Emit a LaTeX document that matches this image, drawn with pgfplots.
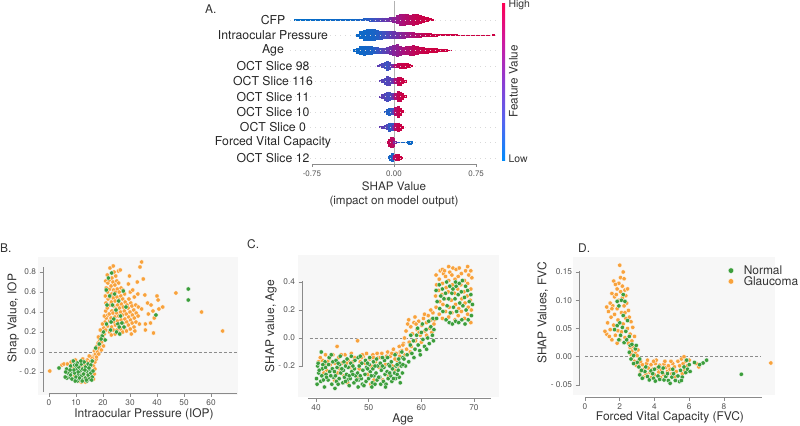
\documentclass[border=0pt]{standalone}
\usepackage{fontspec}
\setmainfont{TeX Gyre Heros}
\usepackage{pgfplots}
\pgfplotsset{compat=1.18}
\definecolor{gl}{HTML}{F8A23C}
\definecolor{nm}{HTML}{3C9E3C}
\definecolor{tk}{HTML}{555555}
\definecolor{lb}{HTML}{333333}
\definecolor{sp}{HTML}{8A8A8A}
\pgfplotsset{
  set layers,
  scat/.style={
    scale only axis, clip=false, anchor=south west,
    axis line style={draw=none},
    tick pos=left, tick align=outside,
    major tick length=3.5bp,
    tick style={sp, line width=0.6bp},
    ticklabel style={font=\fontsize{8.3}{9}\selectfont, text=tk},
    label style={font=\fontsize{12}{14}\selectfont, text=lb},
    /pgf/number format/assume math mode=true,
  },
  pts/.style={only marks, mark=*, mark size=2.2bp, mark options={draw=white, line width=0.3bp, fill=#1}},
  zeroline/.style={no marks, forget plot, black!45, line width=0.8bp, dash pattern=on 3bp off 2bp},
  swarm/.style={scatter, only marks, scatter src=explicit, mark=|, mark options={line width=3.4bp},
    visualization depends on={\thisrow{h} \as \hh},
    scatter/@pre marker code/.append style={/tikz/mark size=\hh}},
}
\begin{document}
\begin{tikzpicture}[x=1bp,y=1bp]
\path (0,0) rectangle (800,425);
% ---------------- Panel A ----------------
\node[anchor=west, inner sep=0pt, font=\fontsize{12}{14}\selectfont, text=lb] at (205,416) {A.};
\begin{axis}[
  at={(290bp,261bp)}, anchor=south west, scale only axis, width=208bp, height=162.5bp,
  xmin=-0.95, xmax=0.95, ymin=0.6, ymax=11.2, clip=false,
  axis line style={draw=none},
  tick pos=left, tick align=outside,
  xtick={-0.75,0,0.75}, xticklabels={-0.75,0.00,0.75},
  ytick={1,2,3,4,5,6,7,8,9,10},
  yticklabels={OCT Slice 12,Forced Vital Capacity,OCT Slice 0,OCT Slice 10,OCT Slice 11,OCT Slice 116,OCT Slice 98,Age,Intraocular Pressure,CFP},
  ymajorgrids, major grid style={black!15, line width=0.4bp, dash pattern=on 1bp off 4bp},
  ytick style={draw=none}, xtick style={sp, line width=0.6bp}, major tick length=3bp,
  xticklabel style={font=\fontsize{8}{9}\selectfont, text=tk},
  yticklabel style={font=\fontsize{12.3}{14}\selectfont, text=black!85, anchor=center, xshift=-14bp},
  xlabel={SHAP Value\\(impact on model output)},
  xlabel style={font=\fontsize{11.7}{14}\selectfont, text=lb, align=center, at={(axis description cs:0.5,-0.086)}, anchor=north},
  colormap={shap}{rgb255(0cm)=(0,139,251); rgb255(1cm)=(85,100,240); rgb255(2cm)=(140,60,210); rgb255(3cm)=(205,25,160); rgb255(4cm)=(255,0,82)},
  point meta min=0, point meta max=1,
  colorbar shift/.style={xshift=4bp},
  colorbar,
  colorbar style={
    at={(parent axis.north east)}, anchor=north west, yshift=-1bp,
    scale only axis, width=3bp, height=158bp,
    axis line style={draw=none},
    ytick={0.013,0.987}, yticklabels={Low,High}, major tick length=0pt,
    yticklabel style={font=\fontsize{10.5}{12}\selectfont, text=lb},
    ylabel={Feature Value},
    ylabel style={font=\fontsize{11.8}{13}\selectfont, text=lb, at={(axis description cs:5.2,0.5)}, anchor=base},
  },
]
\addplot[no marks, forget plot, black!30, line width=0.9bp] coordinates {(0,0.6) (0,11.2)};
\draw[sp, line width=0.7bp] (axis cs:-0.75,0.6) -- (axis cs:0.75,0.6);
% CFP
\addplot[swarm] table[x=x,y=y,meta=c] {
x y h c
-0.90 10 0.9 0.02
-0.87 10 0.7 0.02
-0.84 10 0.7 0.02
-0.81 10 0.7 0.02
-0.78 10 0.7 0.02
-0.75 10 0.7 0.03
-0.72 10 0.7 0.03
-0.69 10 0.7 0.03
-0.66 10 0.8 0.03
-0.63 10 0.8 0.04
-0.60 10 0.8 0.04
-0.57 10 0.8 0.04
-0.54 10 0.8 0.05
-0.51 10 0.9 0.05
-0.48 10 0.9 0.05
-0.45 10 0.9 0.05
-0.42 10 1.0 0.05
-0.39 10 1.0 0.05
-0.36 10 1.1 0.06
-0.33 10 1.2 0.08
-0.30 10 1.3 0.10
-0.27 10 1.4 0.12
-0.24 10 1.5 0.15
-0.21 10 1.7 0.19
-0.18 10 1.9 0.24
-0.15 10 2.1 0.29
-0.12 10 2.2 0.35
-0.09 10 2.3 0.41
-0.06 10 2.4 0.47
-0.03 10 2.6 0.54
0.00 10 3.0 0.62
0.03 10 4.5 0.70
0.06 10 6.0 0.76
0.09 10 6.3 0.80
0.12 10 5.5 0.84
0.15 10 5.2 0.88
0.18 10 5.8 0.91
0.21 10 5.5 0.94
0.24 10 4.6 0.96
0.27 10 3.6 0.98
0.30 10 2.6 1.00
0.33 10 1.6 1.00
0.35 10 0.9 1.00
};
% IOP
\addplot[swarm] table[x=x,y=y,meta=c] {
x y h c
-0.33 9 1.5 0.05
-0.30 9 4.0 0.05
-0.27 9 5.5 0.06
-0.24 9 6.3 0.07
-0.21 9 6.3 0.08
-0.18 9 5.8 0.10
-0.15 9 5.0 0.13
-0.12 9 4.3 0.18
-0.09 9 4.0 0.24
-0.06 9 3.8 0.31
-0.03 9 3.8 0.38
0.00 9 3.8 0.45
0.03 9 3.7 0.52
0.06 9 3.6 0.58
0.09 9 3.4 0.64
0.12 9 3.2 0.70
0.15 9 3.0 0.76
0.18 9 2.8 0.81
0.21 9 2.6 0.85
0.24 9 2.4 0.89
0.27 9 2.2 0.92
0.30 9 2.0 0.95
0.33 9 1.8 0.97
0.36 9 1.6 0.98
0.39 9 1.4 1.00
0.42 9 1.2 1.00
0.45 9 1.0 1.00
0.48 9 0.8 1.00
0.51 9 0.8 1.00
0.54 9 0.8 1.00
0.57 9 0.8 1.00
0.60 9 0.7 1.00
0.63 9 0.7 1.00
0.66 9 0.7 1.00
0.69 9 0.7 1.00
0.72 9 0.7 1.00
0.75 9 0.7 1.00
0.78 9 0.7 1.00
0.81 9 0.7 1.00
0.84 9 0.7 1.00
0.87 9 0.7 1.00
0.91 9 0.9 1.00
};
% Age
\addplot[swarm] table[x=x,y=y,meta=c] {
x y h c
-0.36 8 1.2 0.05
-0.33 8 3.0 0.05
-0.30 8 4.2 0.06
-0.27 8 5.0 0.07
-0.24 8 4.8 0.08
-0.21 8 4.2 0.10
-0.18 8 3.6 0.14
-0.15 8 3.2 0.20
-0.12 8 3.0 0.27
-0.09 8 3.0 0.35
-0.06 8 3.3 0.43
-0.03 8 4.2 0.52
0.00 8 5.8 0.60
0.03 8 6.2 0.66
0.06 8 5.0 0.72
0.09 8 4.0 0.77
0.12 8 4.2 0.82
0.15 8 5.0 0.86
0.18 8 5.2 0.90
0.21 8 4.6 0.93
0.24 8 3.8 0.95
0.27 8 3.2 0.97
0.30 8 3.0 0.98
0.33 8 2.8 1.00
0.36 8 2.5 1.00
0.39 8 2.2 1.00
0.42 8 1.9 1.00
0.45 8 1.6 1.00
0.48 8 1.2 1.00
0.51 8 0.8 1.00
};
% OCT Slice 98
\addplot[swarm] table[x=x,y=y,meta=c] {
x y h c
-0.14 7 0.8 0.40
-0.12 7 1.6 0.35
-0.10 7 2.4 0.30
-0.08 7 3.6 0.25
-0.06 7 5.0 0.22
-0.04 7 4.0 0.28
-0.02 7 1.8 0.45
0.00 7 1.2 0.65
0.02 7 2.0 0.85
0.04 7 2.6 0.92
0.06 7 3.0 0.95
0.08 7 3.0 0.97
0.10 7 2.8 0.98
0.12 7 2.4 1.00
0.14 7 1.8 1.00
0.16 7 0.9 1.00
};
% OCT Slice 116
\addplot[swarm] table[x=x,y=y,meta=c] {
x y h c
-0.12 6 0.9 0.40
-0.10 6 2.2 0.35
-0.08 6 3.6 0.30
-0.06 6 5.0 0.32
-0.04 6 4.4 0.35
-0.02 6 3.0 0.40
0.00 6 2.0 0.55
0.02 6 3.2 0.80
0.04 6 4.6 0.92
0.06 6 4.4 0.96
0.08 6 3.0 0.98
0.10 6 1.5 1.00
};
% OCT Slice 11
\addplot[swarm] table[x=x,y=y,meta=c] {
x y h c
-0.12 5 1.0 0.42
-0.10 5 2.6 0.38
-0.08 5 4.0 0.32
-0.06 5 5.0 0.28
-0.04 5 4.5 0.25
-0.02 5 3.2 0.35
0.00 5 2.2 0.55
0.02 5 3.5 0.82
0.04 5 5.2 0.93
0.06 5 5.0 0.96
0.08 5 3.4 0.98
0.10 5 1.5 1.00
};
% OCT Slice 10
\addplot[swarm] table[x=x,y=y,meta=c] {
x y h c
-0.08 4 1.0 0.15
-0.06 4 2.8 0.12
-0.04 4 4.0 0.12
-0.02 4 3.4 0.20
0.00 4 2.2 0.45
0.02 4 4.5 0.85
0.04 4 6.0 0.94
0.06 4 4.0 0.98
0.075 4 1.5 1.00
};
% OCT Slice 0
\addplot[swarm] table[x=x,y=y,meta=c] {
x y h c
-0.12 3 0.9 0.42
-0.10 3 1.4 0.40
-0.08 3 2.0 0.35
-0.06 3 3.0 0.30
-0.04 3 4.6 0.18
-0.02 3 4.0 0.20
0.00 3 2.4 0.50
0.02 3 3.8 0.88
0.04 3 4.5 0.95
0.06 3 3.4 0.98
0.075 3 1.5 1.00
};
% Forced Vital Capacity
\addplot[swarm] table[x=x,y=y,meta=c] {
x y h c
-0.05 2 1.5 0.95
-0.035 2 4.0 0.93
-0.02 2 5.8 0.90
-0.005 2 4.5 0.85
0.01 2 1.5 0.60
0.03 2 0.8 0.30
0.05 2 0.7 0.15
0.07 2 0.7 0.10
0.09 2 0.7 0.08
0.11 2 0.8 0.06
0.13 2 1.2 0.05
0.145 2 2.0 0.05
0.16 2 1.2 0.05
};
% OCT Slice 12
\addplot[swarm] table[x=x,y=y,meta=c] {
x y h c
-0.04 1 1.5 0.10
-0.03 1 3.2 0.08
-0.015 1 4.5 0.10
0.00 1 2.2 0.30
0.01 1 2.5 0.85
0.025 1 3.5 0.94
0.04 1 3.4 0.97
0.055 1 2.0 1.00
0.065 1 1.0 1.00
};
\end{axis}
% ---------------- Panel B ----------------
\node[anchor=west, inner sep=0pt, font=\fontsize{12}{14}\selectfont, text=lb] at (0,177) {B.};
\begin{axis}[scat, at={(43bp,32bp)}, width=195bp, height=136bp,
  xmin=-2.22, xmax=70, ymin=-0.41, ymax=0.95,
  xtick={0,10,20,30,40,50,60}, xticklabels={0,10,20,30,40,50,60},
  ytick={-0.2,0,0.2,0.4,0.6,0.8}, yticklabels={- 0.2,0.0,0.2,0.4,0.6,0.8},
  xlabel={Intraocular Pressure (IOP)}, ylabel={Shap Value, IOP},
  xlabel style={at={(axis description cs:0.518,-0.179)}, anchor=base},
  ylabel style={at={(axis description cs:-0.137,0.551)}, anchor=base},
]
\begin{pgfonlayer}{axis background}
\fill[black!3] (axis cs:-4.07,-0.43) rectangle (axis cs:70,0.95);
\end{pgfonlayer}
\draw[sp, line width=0.8bp] (axis cs:-2.22,-0.40) -- (axis cs:-2.22,0.85);
\draw[sp, line width=0.8bp] (axis cs:0,-0.41) -- (axis cs:69.6,-0.41);
\addplot[zeroline] coordinates {(0,0) (70,0)};
\addplot[pts=gl] table {
0.3 -0.19
4.8 -0.13
5.5 -0.12
6.8 -0.12
8.2 -0.10
9.8 -0.08
10.5 -0.23
11.2 -0.13
12.2 -0.16
13.2 -0.13
14.2 -0.08
15.2 -0.10
16.0 -0.06
16.5 -0.14
16.8 -0.22
16.5 -0.27
17.0 -0.10
13.5 -0.30
12.0 -0.30
11.0 -0.29
9.5 -0.24
8.8 -0.16
7.5 -0.20
14.3 -0.26
15.3 -0.23
12.7 -0.25
11.6 -0.22
10.3 -0.16
13.7 -0.21
15.6 -0.05
16.8 -0.03
17.5 -0.07
17.0 -0.17
14.9 -0.04
12.5 -0.07
13.9 -0.10
16.8 0.01
17.2 -0.02
17.5 0.03
17.8 0.06
18.0 0.00
18.2 0.09
18.5 0.04
18.8 0.12
19.0 0.07
19.2 0.16
19.5 0.10
19.8 0.20
20.0 0.14
20.3 0.24
20.5 0.18
20.8 0.30
21.0 0.22
21.2 0.34
17.6 -0.05
18.4 -0.02
19.4 0.02
20.2 0.06
19.0 0.22
19.8 0.28
20.5 0.36
18.3 0.15
21.0 0.41
21.1 0.49
20.9 0.56
21.2 0.64
21.0 0.71
21.7 0.26
21.8 0.37
21.6 0.44
21.9 0.53
21.7 0.60
21.8 0.69
21.6 0.77
22.4 0.20
22.5 0.31
22.3 0.38
22.6 0.47
22.4 0.55
22.5 0.63
22.3 0.72
22.6 0.84
23.1 0.17
23.2 0.25
23.0 0.34
23.3 0.41
23.1 0.50
23.2 0.58
23.0 0.66
23.3 0.74
23.8 0.86
23.8 0.22
23.9 0.30
23.7 0.39
24.0 0.46
23.8 0.54
23.9 0.62
23.7 0.70
24.1 0.80
24.5 0.18
24.6 0.27
24.4 0.35
24.7 0.43
24.5 0.51
24.6 0.60
24.4 0.67
24.7 0.76
25.2 0.22
25.3 0.31
25.1 0.39
25.4 0.47
25.2 0.55
25.3 0.63
25.1 0.71
25.7 0.81
25.9 0.19
26.0 0.28
25.8 0.36
26.1 0.44
25.9 0.52
26.0 0.60
25.8 0.69
26.6 0.23
26.7 0.32
26.5 0.40
26.8 0.48
26.6 0.56
26.7 0.64
26.4 0.82
27.3 0.20
27.4 0.29
27.2 0.37
27.5 0.45
27.3 0.53
27.4 0.62
28.0 0.24
28.1 0.33
27.9 0.41
28.2 0.50
28.0 0.58
28.7 0.21
28.8 0.30
28.6 0.38
28.9 0.47
29.4 0.68
29.4 0.27
29.5 0.35
29.3 0.44
29.6 0.53
30.1 0.23
30.2 0.32
30.0 0.40
30.3 0.49
30.1 0.60
30.8 0.29
30.9 0.37
30.7 0.46
31.5 0.25
31.6 0.34
31.4 0.42
31.6 0.55
32.2 0.30
32.3 0.39
32.1 0.47
33.0 0.36
33.1 0.45
32.9 0.58
31.0 0.62
32.7 0.70
34.9 0.73
34.3 0.90
33.7 0.85
35.5 0.57
36.5 0.49
40.0 0.56
40.4 0.52
40.7 0.43
42.1 0.45
34.3 0.43
35.7 0.28
37.6 0.29
35.7 0.22
38.7 0.19
39.0 0.34
30.5 0.18
31.8 0.21
33.5 0.28
36.8 0.38
37.8 0.47
38.5 0.41
29.8 0.76
47.0 0.59
56.5 0.40
64.3 0.21
};
\addplot[pts=nm] table {
3.7 -0.16
6.5 -0.17
7.0 -0.21
7.5 -0.25
6.6 -0.26
8.0 -0.14
8.5 -0.19
8.0 -0.23
9.0 -0.27
9.0 -0.09
9.5 -0.13
9.5 -0.21
10.0 -0.17
10.0 -0.25
10.5 -0.29
10.5 -0.11
11.0 -0.15
11.0 -0.22
11.5 -0.27
11.5 -0.19
12.0 -0.12
12.0 -0.24
12.5 -0.17
12.5 -0.28
13.0 -0.10
13.0 -0.21
13.5 -0.26
13.5 -0.15
14.0 -0.19
14.0 -0.29
14.5 -0.23
14.5 -0.12
15.0 -0.17
15.0 -0.27
15.5 -0.21
15.5 -0.13
16.0 -0.25
16.0 -0.09
8.5 -0.27
9.2 -0.18
10.8 -0.20
11.8 -0.09
12.8 -0.22
13.8 -0.28
14.8 -0.16
10.2 -0.13
11.3 -0.26
12.3 -0.29
13.3 -0.18
9.7 -0.29
7.8 -0.18
6.0 -0.25
6.2 -0.20
16.3 -0.19
15.8 -0.28
18.6 0.08
19.7 0.16
20.2 0.20
20.8 0.12
17.3 0.04
21.3 0.28
19.3 0.13
22.0 0.74
23.2 0.79
22.5 0.56
23.5 0.47
24.0 0.33
24.8 0.42
25.5 0.28
26.0 0.25
25.0 0.20
26.5 0.36
27.5 0.61
28.5 0.45
23.0 0.30
21.5 0.47
22.8 0.22
24.3 0.58
25.8 0.51
27.0 0.29
26.2 0.18
21.2 0.62
27.8 0.25
39.6 0.37
51.6 0.63
51.6 0.52
};
\end{axis}
% ---------------- Panel C ----------------
\node[anchor=west, inner sep=0pt, font=\fontsize{12}{14}\selectfont, text=lb] at (247,181) {C.};
\begin{axis}[scat, at={(302bp,27bp)}, width=197bp, height=143bp,
  xmin=37.34, xmax=74.75, ymin=-0.4286, ymax=0.593,
  xtick={40,50,60,70}, xticklabels={40,50,60,70},
  ytick={-0.2,0,0.2,0.4}, yticklabels={- 0.2,0.0,0.2,0.4},
  xlabel={Age}, ylabel={SHAP value, Age},
  xlabel style={at={(axis description cs:0.513,-0.170)}, anchor=base},
  ylabel style={at={(axis description cs:-0.141,0.503)}, anchor=base},
]
\begin{pgfonlayer}{axis background}
\fill[black!3] (axis cs:36.6,-0.42) rectangle (axis cs:74.75,0.593);
\end{pgfonlayer}
\draw[sp, line width=0.8bp] (axis cs:37.34,-0.207) -- (axis cs:37.34,0.407);
\draw[sp, line width=0.8bp] (axis cs:38.5,-0.4286) -- (axis cs:73.2,-0.4286);
\addplot[zeroline] coordinates {(38.8,0) (74.3,0)};
\addplot[pts=gl] table {
41.2 -0.16
41.8 -0.12
42.5 -0.15
43.2 -0.12
44.0 -0.06
44.3 -0.14
44.9 -0.18
45.5 -0.12
46.1 -0.16
46.7 -0.11
47.3 -0.14
47.9 -0.02
48.4 -0.17
49.0 -0.13
49.6 -0.11
50.2 -0.15
50.8 -0.12
51.3 -0.17
51.9 -0.14
52.5 -0.11
53.0 -0.15
53.6 -0.10
54.1 -0.13
54.7 -0.08
55.2 -0.11
55.8 -0.06
56.3 -0.09
53.2 -0.19
52.0 -0.21
50.5 -0.20
48.2 -0.22
46.4 -0.21
44.1 -0.25
42.7 -0.19
45.3 -0.27
47.8 -0.28
49.8 -0.26
51.0 -0.30
53.8 -0.27
54.5 -0.20
55.4 -0.16
43.5 -0.30
46.0 -0.32
50.4 -0.33
52.7 -0.30
42.0 -0.23
40.8 -0.14
41.5 -0.25
56.6 -0.04
55.9 -0.13
54.9 -0.23
40.5 -0.17
41.9 -0.18
43.6 -0.18
44.8 -0.12
45.8 -0.18
47.0 -0.17
48.8 -0.12
49.3 -0.18
50.9 -0.14
52.2 -0.14
53.4 -0.13
54.4 -0.11
55.0 -0.15
56.0 -0.10
51.6 -0.11
48.6 -0.14
46.9 -0.23
44.5 -0.22
42.2 -0.17
55.6 -0.20
56.8 0.00
57.1 0.05
57.4 0.10
57.7 -0.03
58.0 0.08
58.3 0.03
58.6 0.11
58.9 -0.02
59.2 0.06
59.5 0.12
59.8 0.02
60.1 0.09
60.4 0.14
60.7 0.05
61.0 0.11
61.3 0.16
61.6 0.07
61.9 0.13
62.2 0.18
57.2 -0.08
58.1 -0.06
59.0 0.10
60.0 -0.03
61.0 0.02
62.0 0.04
56.5 -0.05
57.6 0.13
58.8 0.15
60.6 0.17
62.4 0.10
59.6 0.04
61.8 0.20
56.9 -0.12
57.9 -0.10
62.5 0.13
62.8 0.22
62.7 0.30
62.9 0.38
62.8 0.45
63.4 0.17
63.5 0.26
63.3 0.34
63.4 0.42
63.6 0.48
64.0 0.14
64.1 0.24
63.9 0.31
64.0 0.39
64.2 0.46
64.0 0.49
64.6 0.19
64.5 0.28
64.7 0.36
64.6 0.44
64.4 0.48
65.2 0.15
65.3 0.22
65.1 0.33
65.2 0.41
65.4 0.47
65.2 0.51
65.8 0.18
65.7 0.27
65.9 0.38
65.8 0.45
66.0 0.50
66.4 0.13
66.5 0.24
66.3 0.32
66.4 0.42
66.6 0.49
67.0 0.16
67.1 0.21
66.9 0.35
67.0 0.44
67.2 0.50
67.6 0.19
67.7 0.28
67.5 0.38
67.6 0.46
68.2 0.14
68.3 0.25
68.1 0.33
68.2 0.41
68.4 0.48
68.8 0.17
68.9 0.22
68.7 0.30
68.8 0.39
69.0 0.45
68.8 0.51
69.4 0.11
69.5 0.20
69.3 0.27
69.4 0.35
69.6 0.43
69.4 0.48
};
\addplot[pts=nm] table {
40.3 -0.20
40.5 -0.25
40.1 -0.29
40.4 -0.18
41.0 -0.10
41.2 -0.22
40.9 -0.31
41.1 -0.27
41.7 -0.17
41.9 -0.26
41.6 -0.35
41.8 -0.21
42.4 -0.19
42.6 -0.24
42.3 -0.30
42.5 -0.14
43.1 -0.22
43.3 -0.28
43.0 -0.33
43.2 -0.17
43.8 -0.16
44.0 -0.21
43.7 -0.27
43.9 -0.31
44.5 -0.19
44.7 -0.25
44.4 -0.29
44.6 -0.13
45.2 -0.23
45.4 -0.28
45.1 -0.32
45.3 -0.17
45.9 -0.15
46.1 -0.21
45.8 -0.26
46.0 -0.30
46.6 -0.18
46.8 -0.24
46.5 -0.29
46.7 -0.13
47.3 -0.22
47.5 -0.27
47.2 -0.32
47.4 -0.16
48.0 -0.14
48.2 -0.20
47.9 -0.25
48.1 -0.30
48.7 -0.18
48.9 -0.23
48.6 -0.29
48.8 -0.33
49.4 -0.16
49.6 -0.21
49.3 -0.26
49.5 -0.31
50.1 -0.19
50.3 -0.24
50.0 -0.29
50.2 -0.14
50.8 -0.22
51.0 -0.27
50.7 -0.32
50.9 -0.17
51.5 -0.15
51.7 -0.20
51.4 -0.25
51.6 -0.30
52.2 -0.18
52.4 -0.23
52.1 -0.28
52.3 -0.33
52.9 -0.21
53.1 -0.26
52.8 -0.31
53.0 -0.16
53.6 -0.14
53.8 -0.19
53.5 -0.24
53.7 -0.29
54.3 -0.17
54.5 -0.22
54.2 -0.27
54.4 -0.31
55.0 -0.12
55.2 -0.20
54.9 -0.25
55.1 -0.29
55.7 -0.15
55.9 -0.18
55.6 -0.23
55.8 -0.28
56.3 -0.10
56.5 -0.14
56.2 -0.20
56.4 -0.25
40.6 -0.23
41.4 -0.30
42.0 -0.28
42.8 -0.27
43.5 -0.24
44.2 -0.33
44.9 -0.22
45.6 -0.31
46.3 -0.27
47.0 -0.20
47.7 -0.30
48.4 -0.27
49.1 -0.34
49.8 -0.22
50.5 -0.27
51.2 -0.33
51.9 -0.28
52.6 -0.20
53.3 -0.33
54.0 -0.25
54.7 -0.29
55.4 -0.26
56.0 -0.32
41.3 -0.19
42.9 -0.12
44.2 -0.18
45.6 -0.20
47.0 -0.26
48.4 -0.13
49.8 -0.18
51.2 -0.20
52.6 -0.14
54.0 -0.20
55.4 -0.19
40.2 -0.33
46.3 -0.34
50.6 -0.35
53.2 -0.35
43.6 -0.36
48.0 -0.35
56.7 -0.15
57.0 -0.20
57.3 -0.12
57.6 -0.17
57.9 -0.05
58.2 -0.11
58.5 -0.02
58.8 -0.08
59.1 0.02
59.4 -0.05
59.7 -0.09
60.0 0.04
60.3 -0.01
60.6 -0.06
60.9 0.06
61.2 0.00
61.5 -0.04
61.8 0.08
62.1 0.02
62.4 0.06
58.0 0.02
59.3 0.07
60.2 0.10
61.4 0.12
62.2 0.14
56.5 -0.19
58.6 -0.14
59.8 -0.12
61.0 -0.08
62.3 -0.02
62.9 0.14
63.0 0.26
62.8 0.34
63.5 0.21
63.7 0.30
63.4 0.38
64.1 0.19
64.3 0.28
64.0 0.35
64.7 0.13
64.9 0.23
64.6 0.32
64.8 0.40
65.3 0.11
65.5 0.18
65.2 0.28
65.4 0.37
65.9 0.10
66.1 0.22
65.8 0.32
66.0 0.35
66.5 0.12
66.7 0.19
66.4 0.28
66.6 0.37
66.5 0.40
67.1 0.11
67.3 0.25
67.0 0.31
67.2 0.39
67.7 0.13
67.9 0.23
67.6 0.33
67.8 0.41
68.3 0.10
68.5 0.20
68.2 0.29
68.4 0.37
68.9 0.13
69.1 0.26
68.8 0.34
69.5 0.16
69.7 0.24
69.4 0.31
};
\end{axis}
% ---------------- Panel D ----------------
\node[anchor=west, inner sep=0pt, font=\fontsize{12}{14}\selectfont, text=lb] at (578,177) {D.};
\begin{axis}[scat, at={(579bp,28bp)}, width=196bp, height=140bp,
  xmin=-0.345, xmax=10.94, ymin=-0.0712, ymax=0.1765,
  xtick={0,2,4,6,8}, xticklabels={0,2,4,6,8},
  ytick={-0.05,0,0.05,0.10,0.15}, yticklabels={- 0.05,0.00,0.05,0.10,0.15},
  xlabel={Forced Vital Capacity (FVC)}, ylabel={SHAP Values, FVC},
  xlabel style={at={(axis description cs:0.464,-0.166)}, anchor=base},
  ylabel style={at={(axis description cs:-0.167,0.60)}, anchor=base},
  legend style={at={(axis description cs:0.76,0.955)}, anchor=north west, draw=none, fill=none,
    font=\fontsize{12}{14}\selectfont, text=lb, row sep=-3.5bp, inner sep=0pt,
    /tikz/every odd column/.append style={column sep=8bp}},
  legend cell align=left,
  legend image code/.code={\draw[#1] plot coordinates {(0bp,0bp)};},
  legend image post style={mark size=2.8bp},
]
\begin{pgfonlayer}{axis background}
\fill[black!3] (axis cs:-0.69,-0.068) rectangle (axis cs:10.94,0.1765);
\end{pgfonlayer}
\draw[sp, line width=0.8bp] (axis cs:-0.345,-0.051) -- (axis cs:-0.345,0.152);
\draw[sp, line width=0.8bp] (axis cs:0,-0.0712) -- (axis cs:10.2,-0.0712);
\addplot[zeroline] coordinates {(0,0) (10.1,0)};
\addplot[pts=gl, forget plot] table {
2.0 0.162
2.2 0.150
2.05 0.140
1.95 0.130
2.25 0.138
1.65 0.134
1.75 0.128
2.15 0.125
2.3 0.118
1.85 0.120
2.05 0.115
1.55 0.112
2.35 0.108
2.15 0.104
1.7 0.106
1.95 0.100
2.4 0.095
1.45 0.095
1.25 0.088
1.6 0.090
2.25 0.090
1.85 0.085
2.5 0.082
1.35 0.080
2.1 0.078
1.7 0.075
2.55 0.070
1.5 0.070
2.35 0.068
1.9 0.065
2.65 0.062
1.3 0.060
2.2 0.058
1.65 0.056
2.75 0.052
2.45 0.050
1.45 0.048
1.9 0.046
1.25 0.040
2.1 0.044
2.6 0.040
1.4 0.036
1.75 0.038
2.85 0.036
2.3 0.034
1.55 0.030
2.0 0.030
2.7 0.028
1.85 0.024
2.5 0.024
1.15 0.045
2.45 0.120
1.8 0.110
2.3 0.078
1.55 0.085
2.6 0.016
2.7 0.010
2.8 0.018
2.9 0.006
2.75 0.000
3.0 0.002
3.1 -0.006
2.85 -0.008
3.2 -0.012
2.95 -0.015
3.05 0.012
2.65 0.004
3.1 -0.018
3.2 -0.026
3.3 -0.014
3.4 -0.022
3.5 -0.030
3.55 -0.012
3.65 -0.020
3.75 -0.028
3.8 -0.014
3.9 -0.022
4.0 -0.032
4.05 -0.012
4.15 -0.020
4.25 -0.027
4.3 -0.015
4.4 -0.023
4.5 -0.031
4.55 -0.013
4.65 -0.019
4.75 -0.026
4.8 -0.016
4.9 -0.022
5.0 -0.030
5.05 -0.012
5.15 -0.018
5.25 -0.026
5.35 -0.008
5.45 -0.016
5.55 -0.004
5.65 -0.012
5.7 0.000
5.8 -0.008
5.9 -0.016
6.0 -0.006
3.35 -0.036
3.85 -0.036
4.35 -0.037
4.7 -0.034
5.2 -0.036
5.6 -0.030
3.6 -0.006
4.1 -0.006
4.6 -0.008
3.2 -0.008
6.4 -0.012
6.55 -0.018
10.7 -0.011
5.75 -0.024
4.95 -0.008
3.95 -0.008
};
\addplot[pts=nm] table {
2.1 0.100
1.95 0.090
2.3 0.098
2.2 0.073
2.0 0.060
2.45 0.064
2.15 0.052
1.85 0.055
2.35 0.045
2.05 0.038
2.55 0.036
1.95 0.030
2.25 0.025
2.6 0.020
1.7 0.048
2.4 0.030
2.2 0.110
1.85 0.098
2.55 0.008
2.7 0.022
2.8 0.002
2.9 0.014
3.0 -0.010
2.95 0.020
3.15 -0.004
2.65 -0.004
3.1 -0.018
2.8 -0.012
3.15 -0.032
3.3 -0.038
3.45 -0.026
3.6 -0.035
3.7 -0.041
3.8 -0.025
3.95 -0.038
4.05 -0.043
4.2 -0.034
4.3 -0.040
4.45 -0.028
4.55 -0.041
4.65 -0.035
4.8 -0.042
4.9 -0.047
5.0 -0.036
5.1 -0.030
5.2 -0.042
5.35 -0.034
5.45 -0.044
5.5 -0.024
5.6 -0.036
5.7 -0.018
5.8 -0.028
5.9 -0.022
6.0 -0.014
5.85 -0.006
6.05 -0.026
3.5 -0.018
4.0 -0.022
4.5 -0.020
5.05 -0.022
4.25 -0.018
3.25 -0.024
6.3 -0.010
6.8 -0.011
7.0 -0.006
6.6 -0.014
9.0 -0.031
5.55 -0.042
3.9 -0.030
4.75 -0.030
};
\addlegendentry{Normal}
\addlegendimage{pts=gl}
\addlegendentry{Glaucoma}
\end{axis}
\pgfresetboundingbox
\useasboundingbox (0,0) rectangle (800,425);
\end{tikzpicture}
\end{document}
